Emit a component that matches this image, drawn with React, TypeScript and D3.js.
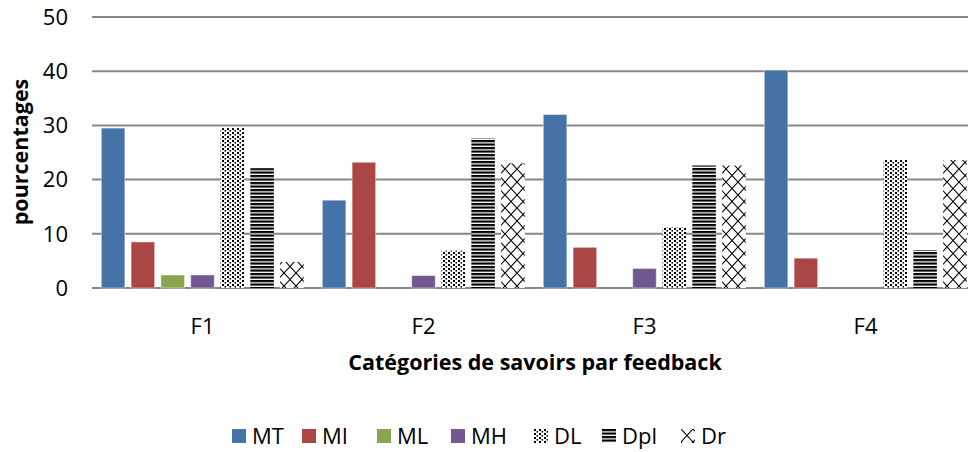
import * as d3 from "d3";
import {useEffect} from "react";

// categories and series
const categories = ["F1", "F2", "F3", "F4"];
const series = ["MT", "MI", "ML", "MH", "DL", "Dpl", "Dr"];

// values per series, in the order of categories
const MT = [29.5, 16.2, 32.0, 40.2];
const MI = [8.5, 23.2, 7.5, 5.5];
const ML = [2.4, 0, 0, 0];
const MH = [2.4, 2.3, 3.6, 0];
const DL = [29.5, 6.9, 11.2, 23.6];
const Dpl = [22.1, 27.6, 22.6, 7.0];
const Dr = [4.8, 23.0, 22.6, 23.6];

const yTicks = [0, 10, 20, 30, 40, 50];

const values: Record<string, number[]> = {MT, MI, ML, MH, DL, Dpl, Dr};

const fills: Record<string, string> = {
    MT: "#4572A7",
    MI: "#AA4643",
    ML: "#89A54E",
    MH: "#71588F",
    DL: "url(#pat-dl)",
    Dpl: "url(#pat-dpl)",
    Dr: "url(#pat-dr)",
};

const width = 968;
const height = 452;
const font = "'Open Sans', 'Noto Sans', sans-serif";

const App = () => {
    useEffect(() => {
        document.body.style.margin = "0";
    }, []);

    // group scale (plot runs past the right edge, as in the picture)
    const x0 = d3.scaleBand<string>()
        .domain(categories)
        .range([92, 976])
        .paddingInner(0)
        .paddingOuter(0);

    const x1 = d3.scaleBand<string>()
        .domain(series)
        .range([9.3, x0.bandwidth() - 9.3])
        .paddingInner(0.21)
        .paddingOuter(0);

    const y = d3.scaleLinear()
        .domain([0, 50])
        .range([288, 17]);

    const legendX: Record<string, number> = {
        MT: 232, MI: 302, ML: 377, MH: 451, DL: 534, Dpl: 602, Dr: 681,
    };

    return (
        <svg width={width} height={height} style={{display: "block", fontFamily: font}}>
            <defs>
                <pattern id="pat-dl" width={5} height={4} patternUnits="userSpaceOnUse">
                    <rect width={5} height={4} fill="#fff"/>
                    <rect x={0} y={0} width={2} height={2} fill="#000"/>
                    <rect x={2.5} y={2} width={1.6} height={1.6} fill="#000"/>
                </pattern>
                <pattern id="pat-dpl" width={4} height={3.5} patternUnits="userSpaceOnUse">
                    <rect width={4} height={3.5} fill="#fff"/>
                    <rect x={0} y={0} width={4} height={2.2} fill="#000"/>
                </pattern>
                <pattern id="pat-dr" width={12} height={13} patternUnits="userSpaceOnUse">
                    <rect width={12} height={13} fill="#fff"/>
                    <path d="M0,0L12,13M12,0L0,13" stroke="#000" strokeWidth={1.1} fill="none"/>
                </pattern>
            </defs>

            {/* gridlines */}
            {yTicks.map(t => (
                <line key={t} x1={92} x2={width} y1={y(t)} y2={y(t)}
                      stroke="#878787" strokeWidth={2}/>
            ))}

            {/* y tick labels */}
            {yTicks.map(t => (
                <text key={t} x={68} y={y(t)} dy="0.35em" textAnchor="end"
                      fontSize={22} fill="#000">{t}</text>
            ))}

            {/* bars */}
            {categories.map((c, i) => (
                <g key={c} transform={`translate(${x0(c)},0)`}>
                    {series.map(s => {
                        const v = values[s][i];
                        if (!v) return null;
                        return (
                            <rect key={s}
                                  x={x1(s)} y={y(v)}
                                  width={x1.bandwidth()} height={y(0) - y(v)}
                                  fill={fills[s]}
                                  stroke={s.startsWith("M") ? "rgba(255,255,255,0.45)" : "none"}
                                  strokeWidth={1}/>
                        );
                    })}
                </g>
            ))}

            {/* category labels */}
            {categories.map(c => (
                <text key={c} x={(x0(c) ?? 0) + x0.bandwidth() / 2} y={326} dy="0.35em" textAnchor="middle"
                      fontSize={22} fill="#000">{c}</text>
            ))}

            {/* axis titles */}
            <text x={535} y={362} dy="0.35em" textAnchor="middle" fontSize={21.5} fontWeight="bold" fill="#000">
                Catégories de savoirs par feedback
            </text>
            <text transform="translate(20,152) rotate(-90)" dy="0.35em" textAnchor="middle"
                  fontSize={21.5} fontWeight="bold" fill="#000">pourcentages</text>

            {/* legend */}
            {series.map(s => (
                <g key={s} transform={`translate(${legendX[s]},429)`}>
                    <rect width={14} height={14} fill={fills[s]}/>
                    <text x={20} y={7} dy="0.36em" fontSize={22} fill="#000">{s}</text>
                </g>
            ))}
        </svg>
    );
};

export default App;
